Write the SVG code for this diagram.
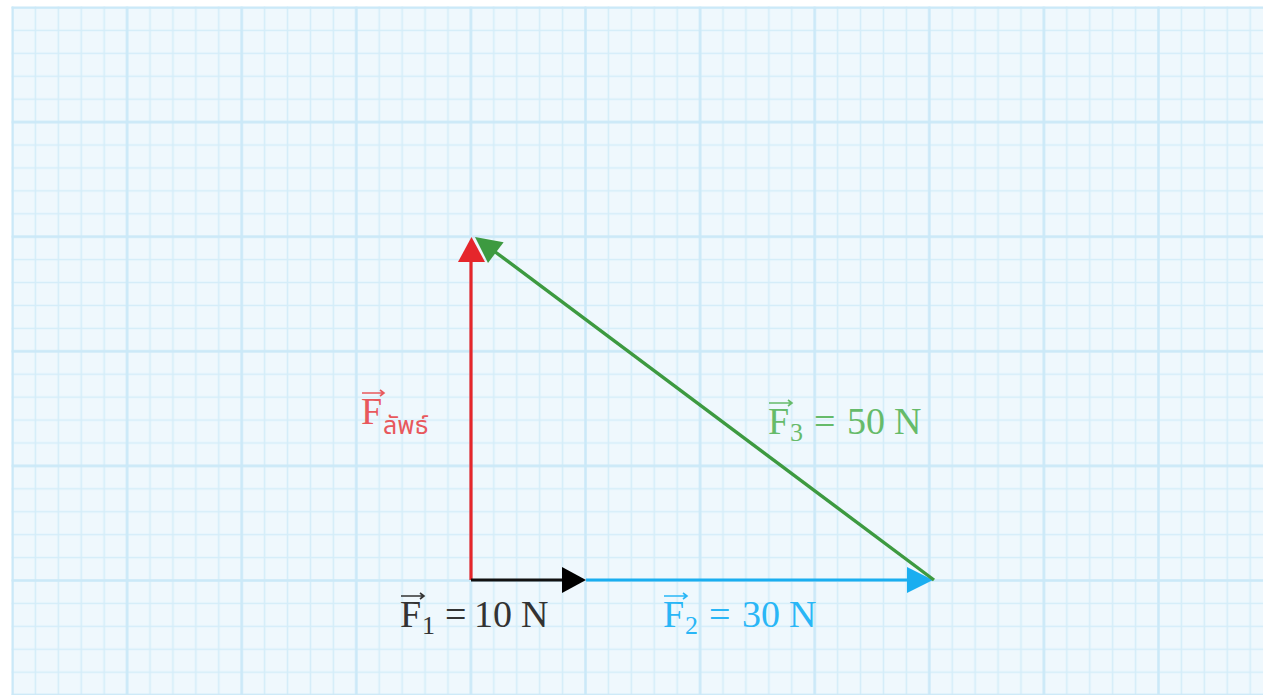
<svg xmlns="http://www.w3.org/2000/svg" width="1263" height="695" viewBox="0 0 1263 695">
<style>
.lbl{font-family:"Liberation Serif","DejaVu Serif",serif;font-size:38px}
.sub{font-size:26px}
.thai{font-family:"Noto Sans Thai","Noto Serif Thai","Noto Sans","DejaVu Sans",sans-serif;font-size:25px}
.ov{fill:none;stroke-width:1.6}
</style>
<defs>
<pattern id="minor" patternUnits="userSpaceOnUse" x="1.04" y="-3.96" width="22.92" height="22.92">
<path d="M11.46 0V22.92M0 11.46H22.92" stroke="#d4edf9" stroke-width="1.6" fill="none"/>
</pattern>
<pattern id="major" patternUnits="userSpaceOnUse" x="-44.8" y="-49.8" width="114.6" height="114.6">
<path d="M57.3 0V114.6M0 57.3H114.6" stroke="#cbe9f8" stroke-width="2.4" fill="none"/>
</pattern>
</defs>
<rect width="1263" height="695" fill="#ffffff"/>
<g id="paper">
<rect x="11.5" y="6.5" width="1252" height="689" fill="#eff8fd"/>
<rect x="11.5" y="6.5" width="1252" height="689" fill="url(#minor)"/>
<rect x="11.5" y="6.5" width="1252" height="689" fill="url(#major)"/>
</g>
<g id="connectors">
<g id="F-result">
<line x1="471" y1="580" x2="471" y2="260" stroke="#e5262b" stroke-width="3.2"/>
<polygon points="471.5,237 458,262 485,262" fill="#e5262b"/>
</g>
<g id="F1">
<line x1="471" y1="580" x2="564" y2="580" stroke="#111" stroke-width="3.2"/>
<polygon points="586,580 562,567 562,593" fill="#000"/>
</g>
<g id="F2">
<line x1="586" y1="580" x2="910" y2="580" stroke="#1aaef0" stroke-width="3.2"/>
<polygon points="933,580 907,567 907,593" fill="#1aaef0"/>
</g>
<g id="F3">
<line x1="934" y1="580" x2="494" y2="251" stroke="#3d9a40" stroke-width="3.4"/>
<polygon points="475,237 503.6,242.3 488,263" fill="#3d9a40"/>
</g>
</g>
<g id="label-result" fill="#e8585c">
<text class="lbl" x="361" y="424">F</text>
<text class="thai" x="383" y="434">ลัพธ์</text>
<path class="ov" stroke="#e8585c" d="M362 393H384M380 390L384 393L380 396"/>
</g>
<g id="label-F1" fill="#333333">
<text class="lbl" x="400" y="627">F</text>
<text class="lbl sub" x="422" y="634">1</text>
<text class="lbl" x="445" y="627">=</text>
<text class="lbl" x="474" y="627">10</text>
<text class="lbl" x="521" y="627">N</text>
<path class="ov" stroke="#333333" d="M401 596H424M420 593L424 596L420 599"/>
</g>
<g id="label-F2" fill="#29b6f6">
<text class="lbl" x="663" y="627">F</text>
<text class="lbl sub" x="685" y="634">2</text>
<text class="lbl" x="709" y="627">=</text>
<text class="lbl" x="742" y="627">30</text>
<text class="lbl" x="789" y="627">N</text>
<path class="ov" stroke="#29b6f6" d="M664 596H687M683 593L687 596L683 599"/>
</g>
<g id="label-F3" fill="#66bb6a">
<text class="lbl" x="768" y="434">F</text>
<text class="lbl sub" x="790" y="441">3</text>
<text class="lbl" x="814" y="434">=</text>
<text class="lbl" x="847" y="434">50</text>
<text class="lbl" x="894" y="434">N</text>
<path class="ov" stroke="#66bb6a" d="M769 403H792M788 400L792 403L788 406"/>
</g>
</svg>
